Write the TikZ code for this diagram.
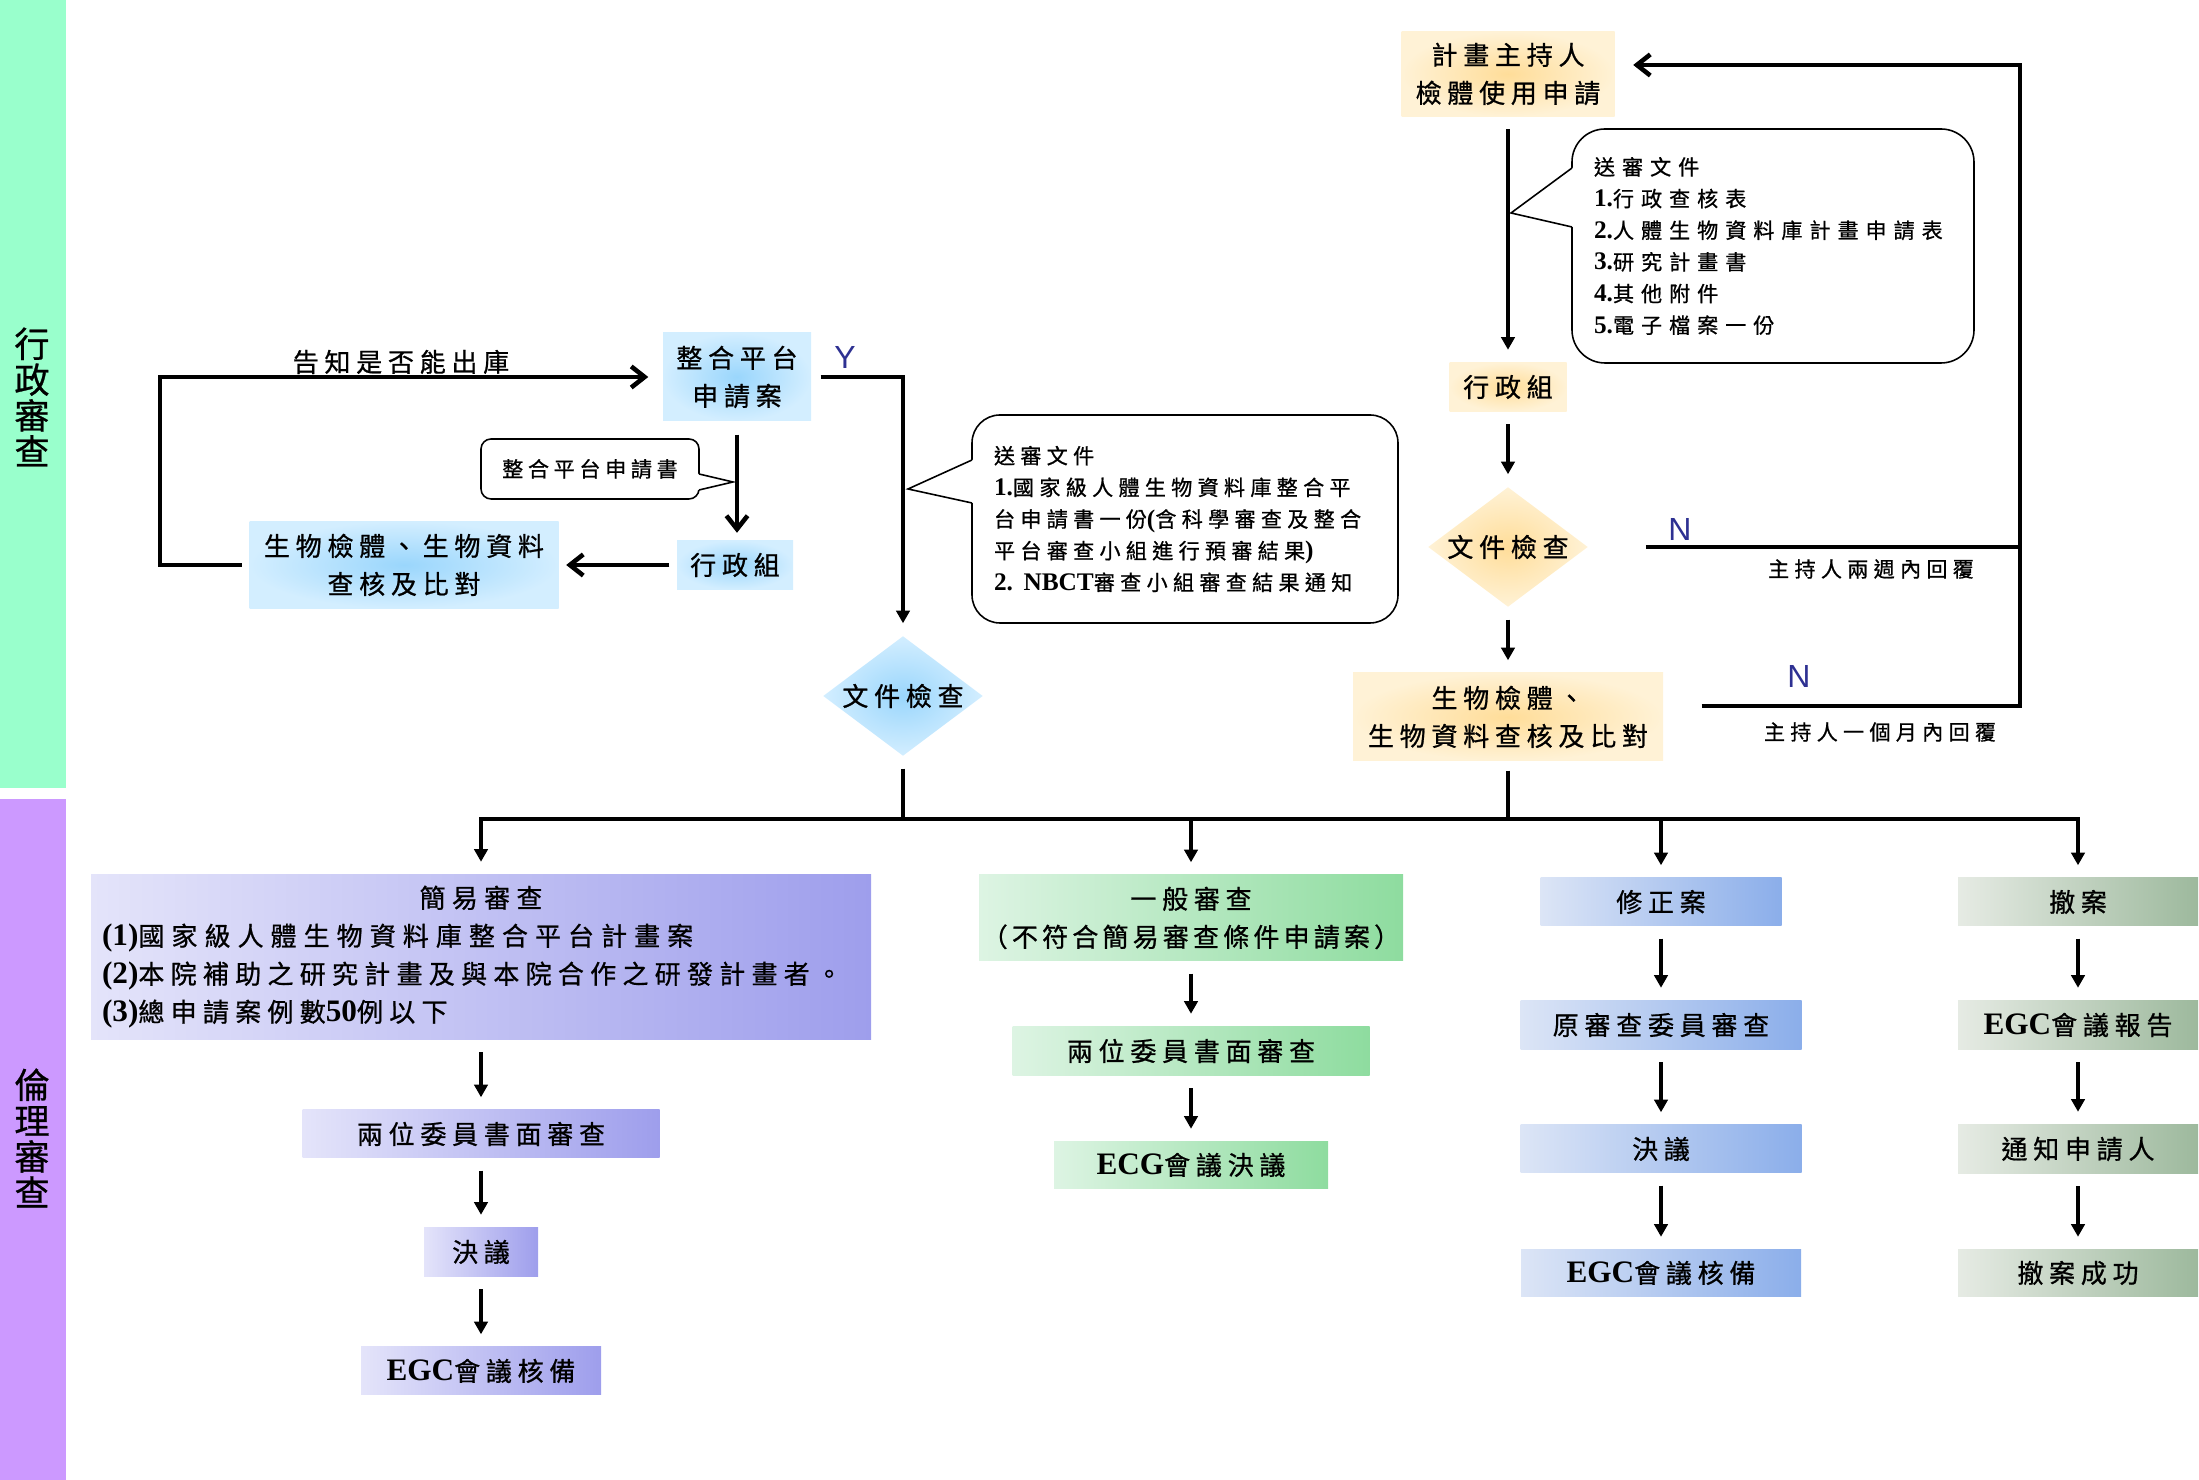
\documentclass[tikz,border=0pt]{standalone}
\usepackage{fontspec}
\setmainfont{Noto Sans CJK TC}[LetterSpace=22, FakeBold=0.8]
\newfontfamily\latin{Liberation Serif}[Scale=1.2]
\newfontfamily\ynfont{Liberation Sans}
\usetikzlibrary{shapes.geometric,arrows.meta}
\newdimen\pxu \pxu=0.01cm
\newcommand\en[1]{{\latin\bfseries #1}}
\newcommand\mainsz{\fontsize{7.4pt}{10.8pt}\selectfont}
\newcommand\notesz{\fontsize{6pt}{9pt}\selectfont}
\newcommand\bandsz{\fontsize{10pt}{10.2pt}\selectfont}
\definecolor{bandgreen}{HTML}{99FFCC}
\definecolor{bandpurple}{HTML}{CC99FF}
\definecolor{skyin}{HTML}{9AD6FC}
\definecolor{skyout}{HTML}{D3EEFF}
\definecolor{sandin}{HTML}{FFDD99}
\definecolor{sandout}{HTML}{FFF2D6}
\definecolor{lavl}{HTML}{E4E4FA}
\definecolor{lavr}{HTML}{9E9EEC}
\definecolor{mintl}{HTML}{DDF4E3}
\definecolor{mintr}{HTML}{8EDC9F}
\definecolor{bluel}{HTML}{DCE5F6}
\definecolor{bluer}{HTML}{8BAEEA}
\definecolor{sagel}{HTML}{E6EBE4}
\definecolor{sager}{HTML}{9DB99D}
\definecolor{ynblue}{HTML}{2E3192}
\begin{document}
\begin{tikzpicture}[x=0.01cm, y=-0.01cm,
  procbox/.style={rectangle, inner sep=0pt, align=center, font=\mainsz},
  wh/.style 2 args={minimum width=#1\pxu, minimum height=#2\pxu},
  skybox/.style={procbox, inner color=skyin, outer color=skyout},
  sandbox/.style={procbox, inner color=sandin, outer color=sandout},
  lavbox/.style={procbox, left color=lavl, right color=lavr},
  mintbox/.style={procbox, left color=mintl, right color=mintr},
  bluebox/.style={procbox, left color=bluel, right color=bluer},
  sagebox/.style={procbox, left color=sagel, right color=sager},
  checkbox/.style={diamond, aspect=1.333, inner sep=0pt, wh={160}{120}, font=\mainsz},
  notebox/.style={draw, line width=0.45pt, fill=white, inner sep=0pt, align=left},
  arr/.style={line width=1.3pt, -{Triangle[length=3.6pt,width=3.8pt]}, shorten >=1.2mm},
  gap/.style={shorten <=1.2mm},
  barb/.style={line width=1.3pt, -{Straight Barb[length=3.8pt,width=6pt]}},
  wire/.style={line width=1.3pt},
  yn/.style={font=\ynfont\fontsize{9.1pt}{10pt}\selectfont, text=ynblue},
  reply/.style={font=\notesz\addfontfeature{LetterSpace=25}}]
\useasboundingbox (0,0) rectangle (2199,1480);
\fill[bandgreen] (0,0) rectangle (66,788);
\fill[bandpurple] (0,799) rectangle (66,1480);
\node[font=\bandsz, align=center] (admlabel) at (32,397) {行\\政\\審\\查};
\node[font=\bandsz, align=center] (ethlabel) at (32,1138) {倫\\理\\審\\查};

\node[skybox, wh={148}{88}] (platform) at (737,377) {整合平台\\申請案};
\node[skybox, wh={116}{49}] (admin1) at (735,565) {行政組};
\node[skybox, wh={309}{87}] (bio1) at (404,565) {生物檢體、生物資料\\查核及比對};
\node[checkbox, inner color=skyin, outer color=skyout] (check1) at (903,696) {文件檢查};
\coordinate (loop1) at (160,565);
\node[font=\mainsz] (tell) at (401,362) {告知是否能出庫};
\node[yn] (yes) at (845,358) {Y};
\draw[barb, shorten <=0.7mm, shorten >=1.4mm] (bio1.west) -- (loop1) |- (platform.west);
\draw[barb, shorten <=1.3mm, shorten >=0.7mm] (platform.south) -- (platform.south |- admin1.north);
\draw[barb, shorten <=0.7mm, shorten >=0.7mm] (admin1.west) -- (admin1.west -| bio1.east);
\draw[arr, shorten <=0.9mm] (platform.east) -- (platform.east -| check1.north) -- (check1.north);

\node[notebox, rounded corners=1mm, wh={218}{60}, font=\notesz, align=center] (form) at (590,469) {整合平台申請書};
\fill[white] (699,474) -- (733,482) -- (699,490) -- (697,490) -- (697,474) -- cycle;
\draw[line width=0.45pt] (699,474) -- (733,482) -- (699,490);

\node[notebox, rounded corners=2.8mm, wh={426}{208}, text width=382\pxu, inner xsep=22\pxu,
  font=\notesz\addfontfeature{LetterSpace=25}] (docs1) at (1185,519)
  {送審文件\\
   \en{1.}國家級人體生物資料庫整合平\\
   台申請書一份\en{(}含科學審查及整合\\
   平台審查小組進行預審結果\en{)}\\
   \en{2. NBCT}審查小組審查結果通知};
\fill[white] (972,460) -- (908,489) -- (972,503) -- (974,503) -- (974,460) -- cycle;
\draw[line width=0.45pt] (972,460) -- (908,489) -- (972,503);

\node[sandbox, wh={213}{85}] (leader) at (1508,74) {計畫主持人\\檢體使用申請};
\node[sandbox, wh={117}{49}] (admin2) at (1508,387) {行政組};
\node[checkbox, inner color=sandin, outer color=sandout] (check2) at (1508,547) {文件檢查};
\node[sandbox, wh={310}{88}] (bio2) at (1508,717) {生物檢體、\\生物資料查核及比對};
\draw[arr, gap] (leader) -- (admin2);
\draw[arr, gap] (admin2) -- (check2);
\draw[arr, gap] (check2) -- (bio2);

\node[notebox, rounded corners=3.3mm, wh={402}{234}, text width=358\pxu, inner xsep=22\pxu,
  font=\notesz\addfontfeature{LetterSpace=33}] (docs2) at (1773,246)
  {送審文件\\
   \en{1.}行政查核表\\
   \en{2.}人體生物資料庫計畫申請表\\
   \en{3.}研究計畫書\\
   \en{4.}其他附件\\
   \en{5.}電子檔案一份};
\fill[white] (1572,168) -- (1511,213) -- (1572,227) -- (1574,227) -- (1574,168) -- cycle;
\draw[line width=0.45pt] (1572,168) -- (1511,213) -- (1572,227);

\coordinate (loopB) at (2020,706);
\coordinate (loopT) at (2020,65);
\draw[wire, shorten <=5.7mm] (check2.east) -- (check2.east -| loopB);
\draw[barb, shorten <=3.8mm, shorten >=1.8mm] (bio2.east |- loopB) -- (loopB) -- (loopT) -- (loopT -| leader.east);
\node[yn] (no1) at (1680,530) {N};
\node[yn] (no2) at (1799,677) {N};
\node[reply] (twoweeks) at (1871,569) {主持人兩週內回覆};
\node[reply] (onemonth) at (1880,732) {主持人一個月內回覆};

\node[lavbox, wh={780}{165}, text width=758\pxu, inner xsep=11\pxu, align=left,
  font=\mainsz\addfontfeature{LetterSpace=24}] (simple) at (481,957)
  {\makebox[\linewidth]{簡易審查}\\
   \en{(1)}{\addfontfeature{LetterSpace=27}國家級人體生物資料庫整合平台計畫案}\\
   \en{(2)}本院補助之研究計畫及與本院合作之研發計畫者。\\
   \en{(3)}總申請案例數\en{50}例以下};
\node[lavbox, wh={357}{48}] (lav2) at (481,1134) {兩位委員書面審查};
\node[lavbox, wh={114}{49}] (lav3) at (481,1252) {決議};
\node[lavbox, wh={240}{48}] (lav4) at (481,1371) {\en{EGC}會議核備};

\node[mintbox, wh={424}{86}] (general) at (1191,918) {一般審查\\{\addfontfeature{LetterSpace=16}（不符合簡易審查條件申請案）}};
\node[mintbox, wh={357}{49}] (mint2) at (1191,1051) {兩位委員書面審查};
\node[mintbox, wh={274}{47}] (mint3) at (1191,1165) {\en{ECG}會議決議};

\node[bluebox, wh={241}{48}] (amend) at (1661,902) {修正案};
\node[bluebox, wh={281}{49}] (blue2) at (1661,1025) {原審查委員審查};
\node[bluebox, wh={281}{48}] (blue3) at (1661,1149) {決議};
\node[bluebox, wh={280}{47}] (blue4) at (1661,1273) {\en{EGC}會議核備};

\node[sagebox, wh={240}{48}] (withdraw) at (2078,902) {撤案};
\node[sagebox, wh={240}{49}] (sage2) at (2078,1025) {\en{EGC}會議報告};
\node[sagebox, wh={240}{49}] (sage3) at (2078,1149) {通知申請人};
\node[sagebox, wh={240}{47}] (sage4) at (2078,1273) {撤案成功};

\coordinate (hubL) at (481,819);
\coordinate (hubR) at (2078,819);
\draw[wire, shorten <=1.2mm] (check1.south) -- (check1.south |- hubL);
\draw[wire, shorten <=0.9mm] (bio2.south) -- (bio2.south |- hubL);
\draw[wire, line cap=rect] (hubL) -- (hubR);
\draw[arr] (hubL) -- (simple);
\draw[arr] (hubL -| general.north) -- (general);
\draw[arr] (hubL -| amend.north) -- (amend);
\draw[arr] (hubR) -- (withdraw);

\draw[arr, gap] (simple) -- (lav2);
\draw[arr, gap] (lav2) -- (lav3);
\draw[arr, gap] (lav3) -- (lav4);
\draw[arr, gap] (general) -- (mint2);
\draw[arr, gap] (mint2) -- (mint3);
\draw[arr, gap] (amend) -- (blue2);
\draw[arr, gap] (blue2) -- (blue3);
\draw[arr, gap] (blue3) -- (blue4);
\draw[arr, gap] (withdraw) -- (sage2);
\draw[arr, gap] (sage2) -- (sage3);
\draw[arr, gap] (sage3) -- (sage4);
\end{tikzpicture}
\end{document}
